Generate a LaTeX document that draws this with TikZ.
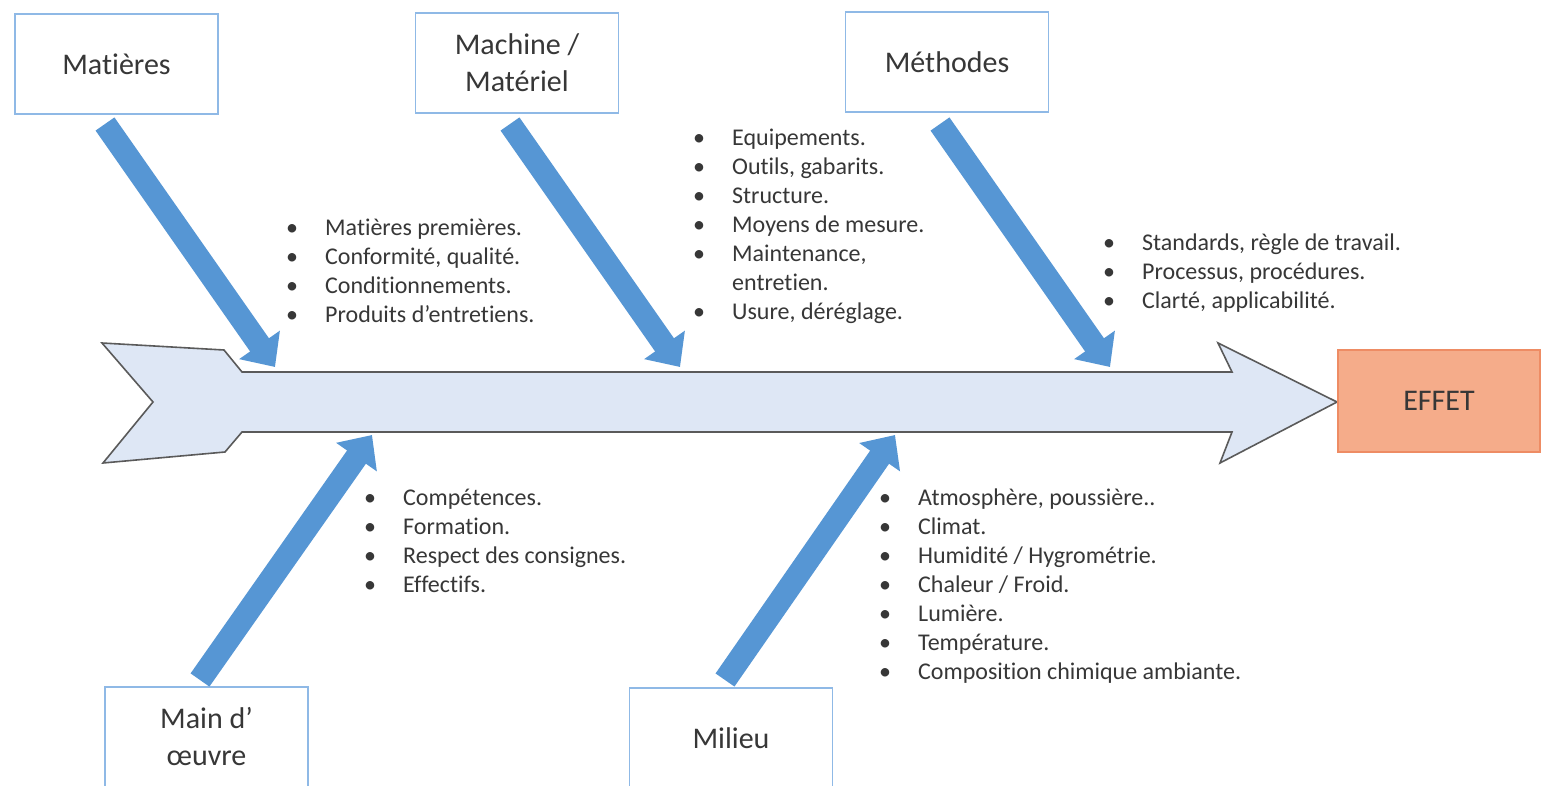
\documentclass[tikz,border=0pt]{standalone}
\usepackage{fontspec}
\setmainfont{Carlito}[Ligatures={NoCommon}]
\usetikzlibrary{arrows.meta}
\definecolor{catblue}{RGB}{143,185,230}
\definecolor{arrblue}{RGB}{86,150,212}
\definecolor{spinefill}{RGB}{222,231,245}
\definecolor{spineline}{RGB}{90,90,90}
\definecolor{txt}{RGB}{55,55,55}
\definecolor{effill}{RGB}{245,172,138}
\definecolor{efline}{RGB}{238,140,100}
\newcommand\mybul{\makebox[39pt][l]{\textbullet}}
\begin{document}
\begin{tikzpicture}[x=1pt,y=-1pt,
  catbox/.style={draw=catblue, line width=1.8pt, fill=white, inner sep=0pt,
    minimum width=203pt, minimum height=100pt, align=center,
    font=\fontsize{30}{37}\selectfont, text=txt},
  bigarrow/.style={arrblue, line width=23pt, -{Triangle[width=48pt,length=27pt]}},
  itemlist/.style={anchor=base west, inner sep=0pt, text=txt,
    font=\fontsize{24}{29}\selectfont},
  spine/.style={fill=spinefill, draw=spineline, line width=1.6pt, line join=miter},
  effet/.style={draw=efline, line width=1.8pt, fill=effill, inner sep=0pt,
    minimum width=202pt, minimum height=102pt, font=\fontsize{30}{37}\selectfont, text=txt}]
\useasboundingbox (0,0) rectangle (1542,786);
\clip (0,0) rectangle (1542,786);
\fill[white] (0,0) rectangle (1542,786);

% spine
\draw[spine] (102,343) -- (224,350) -- (242,372) -- (1232,372) -- (1218,343)
  -- (1337,402) -- (1220,463) -- (1232,432) -- (242,432) -- (225,452)
  -- (103,463) -- (153,402) -- cycle;

% category boxes
\node[catbox] (mat) at (116.5,64) {Matières};
\node[catbox] (mach) at (517,63) {Machine /\\Matériel};
\node[catbox] (meth) at (947,62) {Méthodes};
\node[catbox] (main) at (206.5,737) {Main d’\\œuvre};
\node[catbox] (mil) at (731,738) {Milieu};

% effect
\node[effet] (eff) at (1439,401) {EFFET};

% arrow end points
\coordinate (matS) at (105,124);  \coordinate (matT) at (275,367);
\coordinate (machS) at (510,124); \coordinate (machT) at (680,367);
\coordinate (methS) at (940,124); \coordinate (methT) at (1110,367);
\coordinate (mainS) at (200,680); \coordinate (mainT) at (372,435);
\coordinate (milS) at (725,680);  \coordinate (milT) at (895,435);

\draw[bigarrow] (matS) -- (matT);
\draw[bigarrow] (machS) -- (machT);
\draw[bigarrow] (methS) -- (methT);
\draw[bigarrow] (mainS) -- (mainT);
\draw[bigarrow] (milS) -- (milT);

% lists
\node[itemlist] (lmat) at (286,236) {\begin{tabular}[t]{@{}l@{}}
\mybul Matières premières.\\
\mybul Conformité, qualité.\\
\mybul Conditionnements.\\
\mybul Produits d’entretiens.
\end{tabular}};
\node[itemlist] (lmach) at (693,146) {\begin{tabular}[t]{@{}l@{}}
\mybul Equipements.\\
\mybul Outils, gabarits.\\
\mybul Structure.\\
\mybul Moyens de mesure.\\
\mybul Maintenance,\\
\hspace*{39pt}entretien.\\
\mybul Usure, déréglage.
\end{tabular}};
\node[itemlist] (lmeth) at (1103,251) {\begin{tabular}[t]{@{}l@{}}
\mybul Standards, règle de travail.\\
\mybul Processus, procédures.\\
\mybul Clarté, applicabilité.
\end{tabular}};
\node[itemlist] (lmain) at (364,505) {\begin{tabular}[t]{@{}l@{}}
\mybul Compétences.\\
\mybul Formation.\\
\mybul Respect des consignes.\\
\mybul Effectifs.
\end{tabular}};
\node[itemlist] (lmil) at (879,505) {\begin{tabular}[t]{@{}l@{}}
\mybul Atmosphère, poussière..\\
\mybul Climat.\\
\mybul Humidité / Hygrométrie.\\
\mybul Chaleur / Froid.\\
\mybul Lumière.\\
\mybul Température.\\
\mybul Composition chimique ambiante.
\end{tabular}};
\end{tikzpicture}
\end{document}
